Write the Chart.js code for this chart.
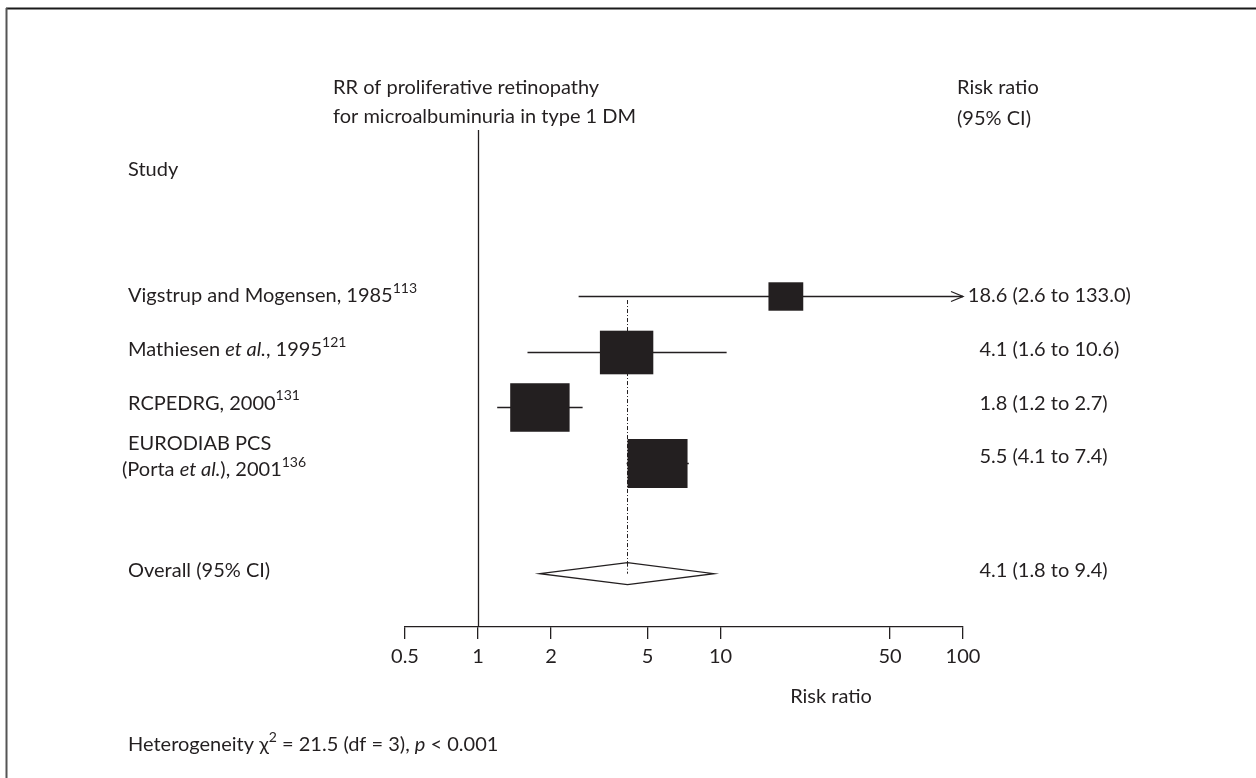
<!DOCTYPE html>
<html>
<head>
<meta charset="utf-8">
<title>Forest plot</title>
<script src="https://cdn.jsdelivr.net/npm/chart.js@4.4.1/dist/chart.umd.min.js"></script>
<style>
  html, body { margin: 0; padding: 0; background: #fff; }
  #wrap { position: relative; width: 1256px; height: 778px; }
</style>
</head>
<body>
<div id="wrap"><canvas id="forest" width="1256" height="778"></canvas></div>
<script>
// study rows (second entry = wrapped line)
const studyLines = [
  ['Vigstrup and Mogensen, 1985'],
  ['Mathiesen et al., 1995'],
  ['RCPEDRG, 2000'],
  ['EURODIAB PCS', '(Porta et al.), 2001']
];
const refs = ['113', '121', '131', '136'];
const riskRatio = [18.6, 4.1, 1.8, 5.5];
const ciLow = [2.6, 1.6, 1.2, 4.1];
const ciHigh = [133.0, 10.6, 2.7, 7.4];
const weights = [0.58, 0.89, 0.99, 1.0];

// pooled estimate
const overallLabel = 'Overall (95% CI)';
const overallRR = 4.1;
const overallLow = 1.8;
const overallHigh = 9.4;

const xTicks = [0.5, 1, 2, 5, 10, 50, 100];
const rowPos = [0, 1, 2, 3];
const overallPos = 5;

const FONT = 'Lato, "Open Sans", sans-serif';
const FS = 20;
const INK = '#231f20';

// "et al." is set in italics
function segments(text) {
  const out = [];
  const parts = text.split('et al.');
  parts.forEach((p, i) => {
    if (p) out.push({ t: p });
    if (i < parts.length - 1) out.push({ t: 'et al.', italic: true });
  });
  return out;
}

function drawRich(ctx, x, y, segs) {
  let cx = x;
  segs.forEach(s => {
    const sz = s.sup ? Math.round(FS * 0.68) : FS;
    ctx.font = `${s.italic ? 'italic ' : ''}${sz}px ${FONT}`;
    ctx.fillText(s.t, cx, s.sup ? y - FS * 0.36 : y);
    cx += ctx.measureText(s.t).width;
  });
  return cx;
}

function fmt(v) { return v.toFixed(1); }

const forestPlugin = {
  id: 'forestPlot',
  beforeDraw(chart) {
    const ctx = chart.ctx;
    ctx.save();
    ctx.fillStyle = '#fff';
    ctx.fillRect(0, 0, chart.width, chart.height);
    // frame
    ctx.lineWidth = 2;
    ctx.strokeStyle = '#1a1a1a';
    ctx.beginPath(); ctx.moveTo(6, 8.5); ctx.lineTo(chart.width, 8.5); ctx.stroke();
    ctx.strokeStyle = '#555';
    ctx.beginPath(); ctx.moveTo(6.5, 8); ctx.lineTo(6.5, chart.height); ctx.stroke();
    ctx.restore();
  },
  afterDatasetsDraw(chart) {
    const ctx = chart.ctx;
    const xs = chart.scales.x, ys = chart.scales.y;
    const area = chart.chartArea;
    ctx.save();
    ctx.strokeStyle = INK;
    ctx.fillStyle = INK;
    ctx.lineWidth = 1.3;

    // line of no effect
    const xOne = Math.round(xs.getPixelForValue(1)) + 0.5;
    ctx.beginPath(); ctx.moveTo(xOne, area.top); ctx.lineTo(xOne, area.bottom); ctx.stroke();

    // pooled estimate reference line
    const xo = Math.round(xs.getPixelForValue(overallRR)) + 0.5;
    ctx.save();
    ctx.lineWidth = 1;
    ctx.setLineDash([4, 2, 1, 2]);
    ctx.beginPath();
    ctx.moveTo(xo, ys.getPixelForValue(rowPos[0]) + 4);
    ctx.lineTo(xo, ys.getPixelForValue(overallPos));
    ctx.stroke();
    ctx.restore();

    // confidence intervals and boxes
    riskRatio.forEach((rr, i) => {
      const y = Math.round(ys.getPixelForValue(rowPos[i])) + 0.5;
      const lo = xs.getPixelForValue(Math.max(ciLow[i], xs.min));
      const hi = xs.getPixelForValue(Math.min(ciHigh[i], xs.max));
      ctx.beginPath(); ctx.moveTo(lo, y); ctx.lineTo(hi, y); ctx.stroke();
      if (ciHigh[i] > xs.max) {
        ctx.beginPath();
        ctx.moveTo(hi - 12, y - 5); ctx.lineTo(hi, y); ctx.lineTo(hi - 12, y + 5);
        ctx.stroke();
      }
      const cx = xs.getPixelForValue(rr);
      const w = 60 * weights[i], h = 49 * weights[i];
      ctx.fillRect(cx - w / 2, y - h / 2, w, h);
    });

    // pooled diamond
    const yd = ys.getPixelForValue(overallPos);
    const dl = xs.getPixelForValue(overallLow), dr = xs.getPixelForValue(overallHigh);
    ctx.fillStyle = '#fff';
    ctx.beginPath();
    ctx.moveTo(dl, yd); ctx.lineTo(xo, yd - 11); ctx.lineTo(dr, yd); ctx.lineTo(xo, yd + 11);
    ctx.closePath();
    ctx.fill(); ctx.stroke();
    // dotted line shows through the upper half of the diamond
    ctx.save();
    ctx.lineWidth = 1;
    ctx.setLineDash([4, 2, 1, 2]);
    ctx.beginPath(); ctx.moveTo(xo, yd - 11); ctx.lineTo(xo, yd); ctx.stroke();
    ctx.restore();
    ctx.restore();
  },
  afterDraw(chart) {
    const ctx = chart.ctx;
    const ys = chart.scales.y;
    ctx.save();
    ctx.fillStyle = INK;
    ctx.textBaseline = 'middle';
    ctx.textAlign = 'left';
    ctx.font = `${FS}px ${FONT}`;

    // headings
    ctx.fillText('RR of proliferative retinopathy', 333, 88);
    ctx.fillText('for microalbuminuria in type 1 DM', 333, 117);
    ctx.fillText('Risk ratio', 957, 88);
    ctx.fillText('(95% CI)', 957, 119);
    ctx.fillText('Study', 128, 170);

    // study labels
    studyLines.forEach((lines, i) => {
      const y = ys.getPixelForValue(rowPos[i]) - i * 2;
      if (lines.length === 1) {
        drawRich(ctx, 128, y, segments(lines[0]).concat([{ t: refs[i], sup: true }]));
      } else {
        drawRich(ctx, 128, y - 13, segments(lines[0]));
        drawRich(ctx, 122, y + 13, segments(lines[1]).concat([{ t: refs[i], sup: true }]));
      }
    });
    drawRich(ctx, 128, ys.getPixelForValue(overallPos) - 3, [{ t: overallLabel }]);

    // estimate column, aligned on the decimal point
    const decX = 991;
    const valueRow = (rr, lo, hi, y) => {
      ctx.font = `${FS}px ${FONT}`;
      const intW = ctx.measureText(String(Math.floor(rr))).width;
      ctx.fillText(`${fmt(rr)} (${fmt(lo)} to ${fmt(hi)})`, decX - intW, y);
    };
    riskRatio.forEach((rr, i) => valueRow(rr, ciLow[i], ciHigh[i], ys.getPixelForValue(rowPos[i]) - i * 2));
    valueRow(overallRR, overallLow, overallHigh, ys.getPixelForValue(overallPos) - 3);

    // axis title
    ctx.textAlign = 'center';
    ctx.fillText('Risk ratio', 831, 697);

    // heterogeneity note
    ctx.textAlign = 'left';
    drawRich(ctx, 128, 745, [
      { t: 'Heterogeneity \u03c7' }, { t: '2', sup: true },
      { t: ' = 21.5 (df = 3), ' }, { t: 'p', italic: true }, { t: ' < 0.001' }
    ]);
    ctx.restore();
  }
};

const chart = new Chart(document.getElementById('forest').getContext('2d'), {
  type: 'scatter',
  data: {
    datasets: [{
      label: 'Risk ratio',
      data: riskRatio.map((v, i) => ({ x: v, y: rowPos[i] })),
      pointRadius: 0,
      pointHoverRadius: 0
    }]
  },
  options: {
    responsive: false,
    animation: false,
    layout: { padding: { left: 405, right: 293, top: 130, bottom: 101 } },
    plugins: { legend: { display: false }, tooltip: { enabled: false } },
    scales: {
      x: {
        type: 'logarithmic',
        min: 0.5,
        max: 100,
        afterBuildTicks: s => { s.ticks = xTicks.map(v => ({ value: v })); },
        afterFit: s => { s.height = 50; },
        ticks: {
          autoSkip: false,
          maxRotation: 0,
          padding: 6,
          color: INK,
          font: { family: FONT, size: FS },
          callback: v => String(v)
        },
        grid: { drawOnChartArea: false, drawTicks: true, tickLength: 12, color: INK, lineWidth: 1.3 },
        border: { display: true, color: INK, width: 1.3 }
      },
      y: {
        type: 'linear',
        reverse: true,
        min: -2.99,
        max: 5.96,
        display: false
      }
    }
  },
  plugins: [forestPlugin]
});
</script>
</body>
</html>
